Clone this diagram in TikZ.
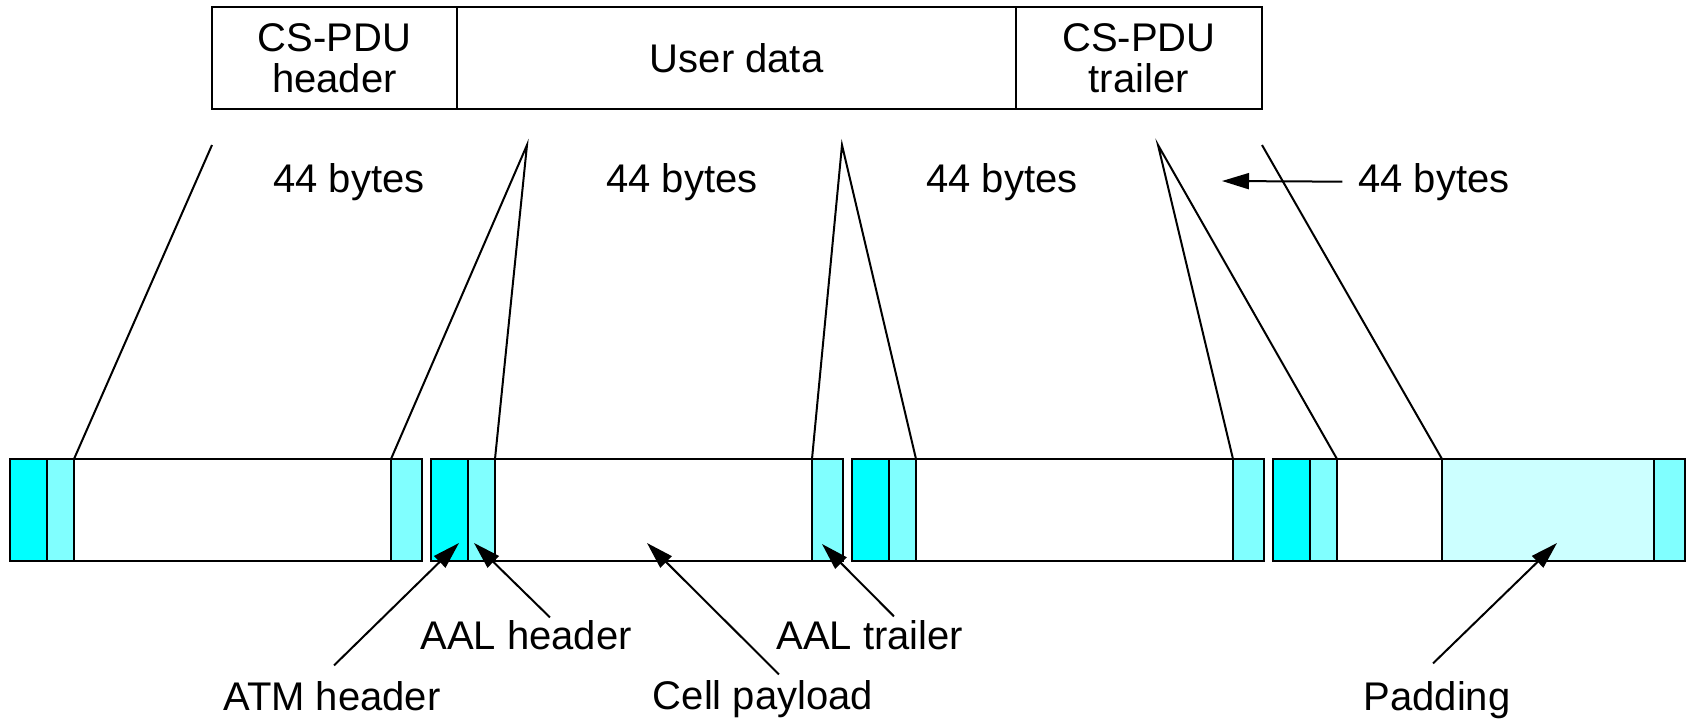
\documentclass[tikz,border=0pt]{standalone}
\usepackage{fontspec}
\setmainfont{Liberation Sans}
\usetikzlibrary{arrows.meta}
\definecolor{atmc}{HTML}{00FFFF}
\definecolor{aalc}{HTML}{80FFFF}
\definecolor{padc}{HTML}{CCFFFF}
\newcommand\cellseg[4]{\node[seg,fill=#4,minimum width={(#3-#2)*0.5pt}] (#1) at ({(#2+#3)/2},510) {};}
\begin{document}
\begin{tikzpicture}[x=0.5pt,y=-0.5pt,
  lbl/.style={inner sep=0,outer sep=0,font=\fontsize{20}{20.5}\selectfont},
  seg/.style={draw,line width=1.1pt,inner sep=0,outer sep=0,minimum height=51pt},
  pdu/.style={draw,line width=1.1pt,inner sep=0,outer sep=0,minimum height=50.85pt,align=center,font=\fontsize{20}{20.5}\selectfont},
  fan/.style={line width=1pt},
  arr/.style={line width=1pt,-{Triangle[length=13.5pt,width=8pt]}}]
\useasboundingbox[fill=white] (0,0) rectangle (1688,719);

% CS-PDU
\node[pdu,minimum width=122.8pt]  (hdr) at (334.5,58.2)  {CS-PDU\\header};
\node[pdu,minimum width=279.35pt] (dat) at (736.65,58.2) {User data};
\node[pdu,minimum width=122.85pt] (trl) at (1138.85,58.2) {CS-PDU\\trailer};

% cells
\cellseg{c1h}{10}{47}{atmc}
\cellseg{c1a}{47}{74}{aalc}
\cellseg{c1p}{74}{391}{white}
\cellseg{c1t}{391}{422}{aalc}
\cellseg{c2h}{431}{468}{atmc}
\cellseg{c2a}{468}{495}{aalc}
\cellseg{c2p}{495}{812}{white}
\cellseg{c2t}{812}{843}{aalc}
\cellseg{c3h}{852}{889}{atmc}
\cellseg{c3a}{889}{916}{aalc}
\cellseg{c3p}{916}{1233}{white}
\cellseg{c3t}{1233}{1264}{aalc}
\cellseg{c4h}{1273}{1310}{atmc}
\cellseg{c4a}{1310}{1337}{aalc}
\cellseg{c4p}{1337}{1442}{white}
\cellseg{c4d}{1442}{1654}{padc}
\cellseg{c4t}{1654}{1685}{aalc}

% fan lines
\coordinate (a1) at (212,145);
\coordinate (a2) at (527,145);
\coordinate (a3) at (842,145);
\coordinate (a4) at (1158,145);
\coordinate (a5) at (1262,145);
\draw[fan] (a1) -- (c1p.north west);
\draw[fan] (c1t.north west) -- (a2) -- (c2p.north west);
\draw[fan] (c2t.north west) -- (a3) -- (c3p.north west);
\draw[fan] (c3t.north west) -- (a4) -- (c4p.north west);
\draw[fan] (a5) -- (c4d.north west);

% 44 bytes labels
\node[lbl,anchor=base] (b1) at (349,192) {44 bytes};
\node[lbl,anchor=base] (b2) at (682,192) {44 bytes};
\node[lbl,anchor=base] (b3) at (1002,192) {44 bytes};
\node[lbl,anchor=base] (b4) at (1434,192) {44 bytes};
\coordinate (t4) at (1222,181);
\draw[arr] ([xshift=-8pt]b4.west) -- (t4);

% bottom labels
\node[lbl,anchor=base] (atm)  at (332,710) {ATM header};
\node[lbl,anchor=base] (aalh) at (526,649) {AAL header};
\node[lbl,anchor=base] (cp)   at (763,709) {Cell payload};
\node[lbl,anchor=base] (aalt) at (870,649) {AAL trailer};
\node[lbl,anchor=base] (pad)  at (1437,710) {Padding};

\coordinate (tatm)  at (459,543);
\coordinate (taalh) at (474,543);
\coordinate (tcp)   at (647,543);
\coordinate (taalt) at (822,544);
\coordinate (tpad)  at (1557,543);
\draw[arr] ([xshift=1pt,yshift=7.8pt]atm.north) -- (tatm);
\draw[arr] ([xshift=12pt,yshift=1.3pt]aalh.north) -- (taalh);
\draw[arr] ([xshift=8pt,yshift=2.8pt]cp.north) -- (tcp);
\draw[arr] ([xshift=12pt,yshift=1.8pt]aalt.north) -- (taalt);
\draw[arr] ([xshift=-2pt,yshift=8.8pt]pad.north) -- (tpad);
\end{tikzpicture}
\end{document}
